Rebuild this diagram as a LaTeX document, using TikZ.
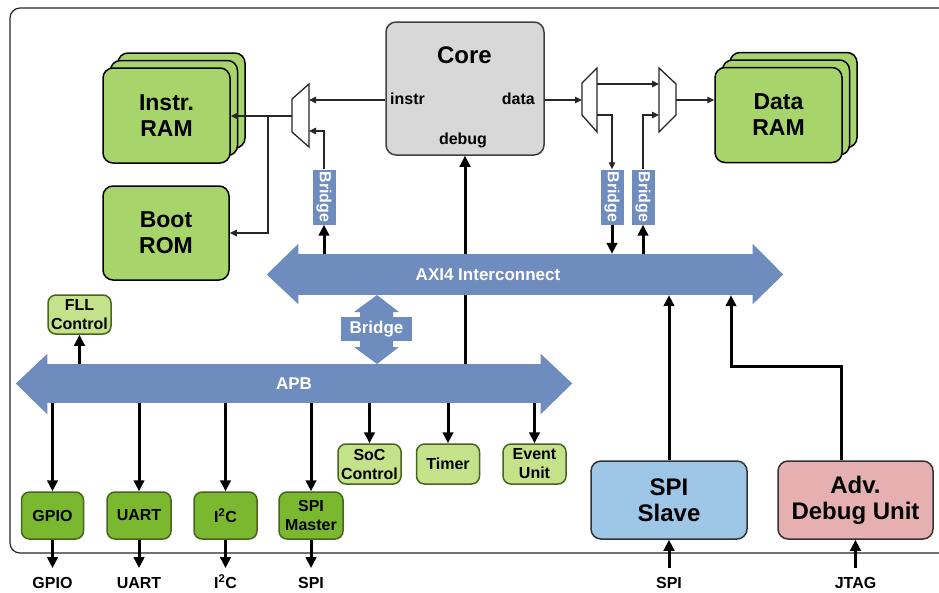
\documentclass[tikz,border=0pt]{standalone}
\usepackage{fontspec}
\setmainfont{Liberation Sans}
\usetikzlibrary{arrows.meta,shadows,backgrounds}
\definecolor{busblue}{RGB}{111,140,191}
\definecolor{ramgreen}{RGB}{168,212,108}
\definecolor{perigreen}{RGB}{122,184,48}
\definecolor{perilight}{RGB}{196,226,138}
\definecolor{periedge}{RGB}{72,100,30}
\definecolor{coregray}{RGB}{216,216,216}
\definecolor{slaveblue}{RGB}{158,198,230}
\definecolor{debugpink}{RGB}{230,176,176}
\tikzset{
  frame/.style={draw=black!85, line width=1.2pt, rounded corners=10pt},
  ram/.style={draw=black, line width=1.5pt, fill=ramgreen, rounded corners=10pt,
    minimum width=127pt, minimum height=95pt, inner sep=0pt, align=center,
    font=\bfseries\fontsize{23}{26}\selectfont},
  rambank/.style={ram, double copy shadow={shadow xshift=7.5pt, shadow yshift=7.5pt}},
  corebox/.style={draw=black!75, line width=1.5pt, fill=coregray, rounded corners=10pt,
    minimum width=158pt, minimum height=133pt},
  portlbl/.style={inner sep=0pt, font=\bfseries\fontsize{16}{19}\selectfont},
  perbox/.style={draw=periedge, line width=1.5pt, fill=perigreen, rounded corners=8pt,
    minimum width=62pt, minimum height=47pt, inner sep=0pt, align=center,
    font=\bfseries\fontsize{16}{19}\selectfont},
  ctrlbox/.style={perbox, fill=perilight, minimum width=63pt, minimum height=40pt},
  extbox/.style={draw=black!80, line width=1.5pt, rounded corners=10pt,
    minimum width=156pt, minimum height=78pt, inner sep=0pt, align=center,
    font=\bfseries\fontsize{24}{26}\selectfont},
  bus/.style={fill=busblue, inner sep=0pt, text=white, font=\bfseries\fontsize{17}{20}\selectfont},
  bridge/.style={fill=busblue, text=white, rotate=-90, minimum width=55pt, minimum height=23pt,
    inner sep=0pt, font=\bfseries\fontsize{16}{19}\selectfont},
  mux/.style={draw=black!85, line width=1.3pt, fill=white},
  wire/.style={draw=black!85, line width=1.3pt, -{Triangle[length=7pt,width=6.5pt]}},
  buswire/.style={draw=black, line width=3pt, -{Triangle[length=11pt,width=10.5pt]}},
  pinlbl/.style={inner sep=0pt, text height=11.5pt, text depth=0pt,
    font=\bfseries\fontsize{16}{19}\selectfont}
}
\begin{document}
\begin{tikzpicture}[x=1pt,y=-1pt]
\clip (0,0) rectangle (939,592);
\draw[frame] (10,8) rectangle (960,553);

\node[rambank] (iram) at (166.5,115.5) {Instr.\\RAM};
\node[ram, minimum width=126pt, minimum height=94pt] (brom) at (166,233) {Boot\\ROM};
\node[rambank] (dram) at (778.5,115) {Data\\RAM};

\node[corebox] (core) at (465,88.5) {};
\node[portlbl, anchor=base, font=\bfseries\fontsize{24}{26}\selectfont] (coretitle) at (464.5,63) {Core};
\node[portlbl, anchor=base west] (instrlbl) at (390,104) {instr};
\node[portlbl, anchor=base east] (datalbl) at (535,104) {data};
\node[portlbl, anchor=base] (debuglbl) at (463,144) {debug};

\draw[mux] (292,99) -- (309,84) -- (309,147) -- (292,132) -- cycle;
\coordinate (imuxa) at (309,100);
\coordinate (imuxb) at (309,131);
\coordinate (imuxo) at (292,116);
\coordinate (isplit) at (268,116);
\draw[mux] (582,83) -- (597,68) -- (597,132) -- (582,115) -- cycle;
\coordinate (dmuxi) at (582,100);
\coordinate (dmuxa) at (597,84);
\coordinate (dmuxb) at (597,115);
\draw[mux] (659,68) -- (676,84) -- (676,115) -- (659,132) -- cycle;
\coordinate (omuxa) at (659,84);
\coordinate (omuxb) at (659,115);
\coordinate (omuxo) at (676,100);

\node[bridge] (ibr) at (324,197) {Bridge};
\node[bridge] (dbr1) at (612,197) {Bridge};
\node[bridge] (dbr2) at (643,197) {Bridge};

\node[bus, minimum width=455pt, minimum height=41pt] (axi) at (525.5,274.5) {};
\fill[busblue] ([xshift=0.5pt,yshift=10pt]axi.north west) -- ([xshift=-31pt]axi.west)
  -- ([xshift=0.5pt,yshift=-9pt]axi.south west) -- cycle;
\fill[busblue] ([xshift=-0.5pt,yshift=10pt]axi.north east) -- ([xshift=30pt]axi.east)
  -- ([xshift=-0.5pt,yshift=-9pt]axi.south east) -- cycle;
\node[bus] (axitxt) at (488,275) {AXI4 Interconnect};

\node[bus, minimum width=494pt, minimum height=39pt] (apb) at (294,383.5) {APB};
\fill[busblue] ([xshift=0.5pt,yshift=10pt]apb.north west) -- ([xshift=-31pt]apb.west)
  -- ([xshift=0.5pt,yshift=-11pt]apb.south west) -- cycle;
\fill[busblue] ([xshift=-0.5pt,yshift=10pt]apb.north east) -- ([xshift=31pt]apb.east)
  -- ([xshift=-0.5pt,yshift=-11pt]apb.south east) -- cycle;

\begin{scope}[on background layer]
\draw[buswire] (apb.north -| core) -- (core.south);
\end{scope}

\node[bus, minimum width=71pt, minimum height=24pt] (apbbr) at (376.5,329) {Bridge};
\fill[busblue] (360,318) -- (360,312) -- (354,312) -- (377,295) -- (399,312) -- (393,312) -- (393,318) -- cycle;
\fill[busblue] (360,340) -- (360,347) -- (354,347) -- (377,364) -- (399,347) -- (393,347) -- (393,340) -- cycle;

\draw[wire] (core.west |- imuxa) -- (imuxa);
\draw[wire] (ibr.west) |- (imuxb);
\draw[wire] (imuxo) -- (imuxo -| iram.east);
\draw[wire] (isplit) |- (brom.east);
\draw[wire] (core.east |- dmuxi) -- (dmuxi);
\draw[wire] (dmuxa) -- (omuxa);
\draw[wire] (dmuxb) -| (dbr1.west);
\draw[wire] (dbr2.west) |- (omuxb);
\draw[wire] (omuxo) -- (omuxo -| dram.west);

\draw[buswire] (axi.north -| ibr) -- (ibr.east);
\draw[buswire] (dbr1.east) -- (dbr1 |- axi.north);
\draw[buswire] (axi.north -| dbr2) -- (dbr2.east);

\node[ctrlbox, minimum height=39pt] (fll) at (79.5,314.5) {FLL\\Control};
\node[ctrlbox] (soc) at (369.5,464) {SoC\\Control};
\node[ctrlbox] (timer) at (448,464) {Timer};
\node[ctrlbox] (event) at (534.5,464) {Event\\Unit};
\draw[buswire] (apb.north -| fll) -- (fll.south);
\draw[buswire] (apb.south -| soc) -- (soc.north);
\draw[buswire] (apb.south -| timer) -- (timer.north);
\draw[buswire] (apb.south -| event) -- (event.north);

\node[perbox] (gpio) at (52.5,515.5) {GPIO};
\node[perbox, minimum width=64pt] (uart) at (139,515.5) {UART};
\node[perbox, minimum width=63pt] (iic) at (225.5,515.5) {I\textsuperscript{2}C};
\node[perbox, minimum width=64pt] (spim) at (311,515.5) {SPI\\Master};
\foreach \p in {gpio,uart,iic,spim}
  \draw[buswire] (apb.south -| \p) -- (\p.north);

\node[pinlbl] (gpiopin) at (52.5,583) {GPIO};
\node[pinlbl] (uartpin) at (139,583) {UART};
\node[pinlbl] (iicpin) at (225.5,583) {I\textsuperscript{2}C};
\node[pinlbl] (spimpin) at (311,583) {SPI};
\draw[buswire, shorten >=9pt] (gpio.south) -- (gpiopin.north);
\draw[buswire, shorten >=9pt] (uart.south) -- (uartpin.north);
\draw[buswire, shorten >=9pt] (iic.south) -- (iicpin.north);
\draw[buswire, shorten >=9pt] (spim.south) -- (spimpin.north);

\node[extbox, fill=slaveblue] (slave) at (669,500) {SPI\\Slave};
\node[extbox, fill=debugpink, minimum width=155pt] (dbg) at (855.5,500) {Adv.\\Debug Unit};
\coordinate (dbgturn) at (731,366);
\draw[buswire] (slave.north) -- (slave |- axi.south);
\draw[buswire] ([xshift=-14.5pt]dbg.north) |- (dbgturn) -- (dbgturn |- axi.south);

\node[pinlbl] (spispin) at (669,583) {SPI};
\node[pinlbl] (jtagpin) at (855.5,583) {JTAG};
\draw[buswire, shorten <=9pt] (spispin.north) -- (slave.south);
\draw[buswire, shorten <=9pt] (jtagpin.north) -- (dbg.south);
\end{tikzpicture}
\end{document}
